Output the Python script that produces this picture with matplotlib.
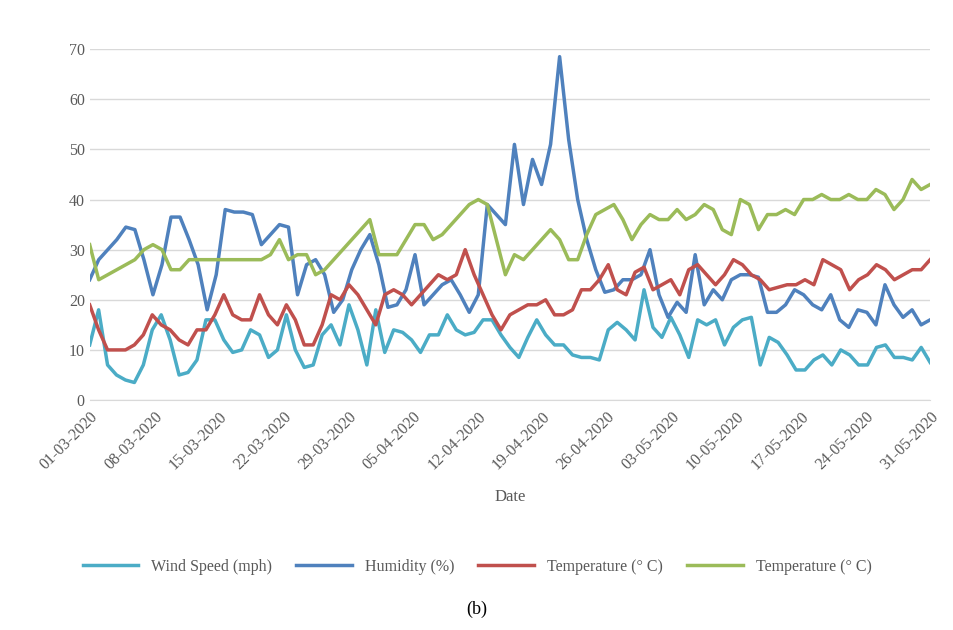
import matplotlib
matplotlib.use("Agg")
from matplotlib import pyplot as plt
import pandas as pd

wind = [11, 18, 7, 5, 4, 3.5, 7, 14, 17, 12, 5, 5.5, 8, 16, 16, 12, 9.5, 10, 14, 13,
        8.5, 10, 17, 10, 6.5, 7, 13, 15, 11, 19, 14, 7, 18, 9.5, 14, 13.5, 12, 9.5, 13, 13,
        17, 14, 13, 13.5, 16, 16, 13, 10.5, 8.5, 12.5, 16, 13, 11, 11, 9, 8.5, 8.5, 8, 14, 15.5,
        14, 12, 22, 14.5, 12.5, 16.5, 13, 8.5, 16, 15, 16, 11, 14.5, 16, 16.5, 7, 12.5, 11.5, 9, 6,
        6, 8, 9, 7, 10, 9, 7, 7, 10.5, 11, 8.5, 8.5, 8, 10.5, 7.5]
humidity = [24, 28, 30, 32, 34.5, 34, 28, 21, 27, 36.5, 36.5, 32, 27, 18, 25, 38, 37.5, 37.5, 37, 31,
            33, 35, 34.5, 21, 27, 28, 25, 17.5, 20, 26, 30, 33, 27, 18.5, 19, 22, 29, 19, 21, 23,
            24, 21, 17.5, 21, 39, 37, 35, 51, 39, 48, 43, 51, 68.5, 52, 40, 32, 26, 21.5, 22, 24,
            24, 25, 30, 21, 16.5, 19.5, 17.5, 29, 19, 22, 20, 24, 25, 25, 24.5, 17.5, 17.5, 19, 22, 21,
            19, 18, 21, 16, 14.5, 18, 17.5, 15, 23, 19, 16.5, 18, 15, 16]
temp_a = [19, 14, 10, 10, 10, 11, 13, 17, 15, 14, 12, 11, 14, 14, 17, 21, 17, 16, 16, 21,
          17, 15, 19, 16, 11, 11, 15, 21, 20, 23, 21, 18, 15, 21, 22, 21, 19, 21, 23, 25,
          24, 25, 30, 25, 21, 17, 14, 17, 18, 19, 19, 20, 17, 17, 18, 22, 22, 24, 27, 22,
          21, 25.5, 26.5, 22, 23, 24, 21, 26, 27, 25, 23, 25, 28, 27, 25, 24, 22, 22.5, 23, 23,
          24, 23, 28, 27, 26, 22, 24, 25, 27, 26, 24, 25, 26, 26, 28]
temp_b = [31, 24, 25, 26, 27, 28, 30, 31, 30, 26, 26, 28, 28, 28, 28, 28, 28, 28, 28, 28,
          29, 32, 28, 29, 29, 25, 26, 28, 30, 32, 34, 36, 29, 29, 29, 32, 35, 35, 32, 33,
          35, 37, 39, 40, 39, 32, 25, 29, 28, 30, 32, 34, 32, 28, 28, 33, 37, 38, 39, 36,
          32, 35, 37, 36, 36, 38, 36, 37, 39, 38, 34, 33, 40, 39, 34, 37, 37, 38, 37, 40,
          40, 41, 40, 40, 41, 40, 40, 42, 41, 38, 40, 44, 42, 43]

start, end = "2020-03-01", "2020-05-31"

plt.rcParams['font.family'] = ['Liberation Serif', 'DejaVu Serif']
fig = plt.figure(figsize=(9.54, 6.3), dpi=100)
ax = fig.add_axes([0.094, 0.365, 0.881, 0.557])

series = [(wind, "#4BACC6", "Wind Speed (mph)"),
          (humidity, "#4F81BD", "Humidity (%)"),
          (temp_a, "#C0504D", "Temperature (° C)"),
          (temp_b, "#9BBB59", "Temperature (° C)")]
for vals, col, lab in series:
    d = pd.date_range(start, end, periods=len(vals))
    ax.plot(d, vals, color=col, lw=2.5, label=lab)

ax.set_ylim(0, 70)
ax.set_yticks(range(0, 71, 10))
ax.set_xlim(pd.Timestamp(start), pd.Timestamp(end))
ticks = pd.date_range(start, end, freq="7D")
ax.set_xticks(ticks)
ax.set_xticklabels([t.strftime("%d-%m-%Y") for t in ticks], rotation=45, ha="right",
                   rotation_mode="anchor", color="#595959", fontsize=11.5)
ax.tick_params(axis="y", colors="#595959", labelsize=11.5, length=0)
ax.tick_params(axis="x", length=0, pad=6)
ax.grid(axis="y", color="#d9d9d9", lw=1)
ax.set_axisbelow(True)
for s in ["top", "right", "left"]:
    ax.spines[s].set_visible(False)
ax.spines["bottom"].set_color("#d9d9d9")
ax.set_xlabel("Date", color="#595959", fontsize=12, labelpad=12)

fig.legend(loc="center", bbox_to_anchor=(0.5, 0.1), ncol=4, frameon=False,
           fontsize=11.5, labelcolor="#595959", handlelength=3.5, columnspacing=1.5)
fig.text(0.5, 0.025, "(b)", ha="center", fontsize=13)

fig.savefig("out.png", dpi=100)
